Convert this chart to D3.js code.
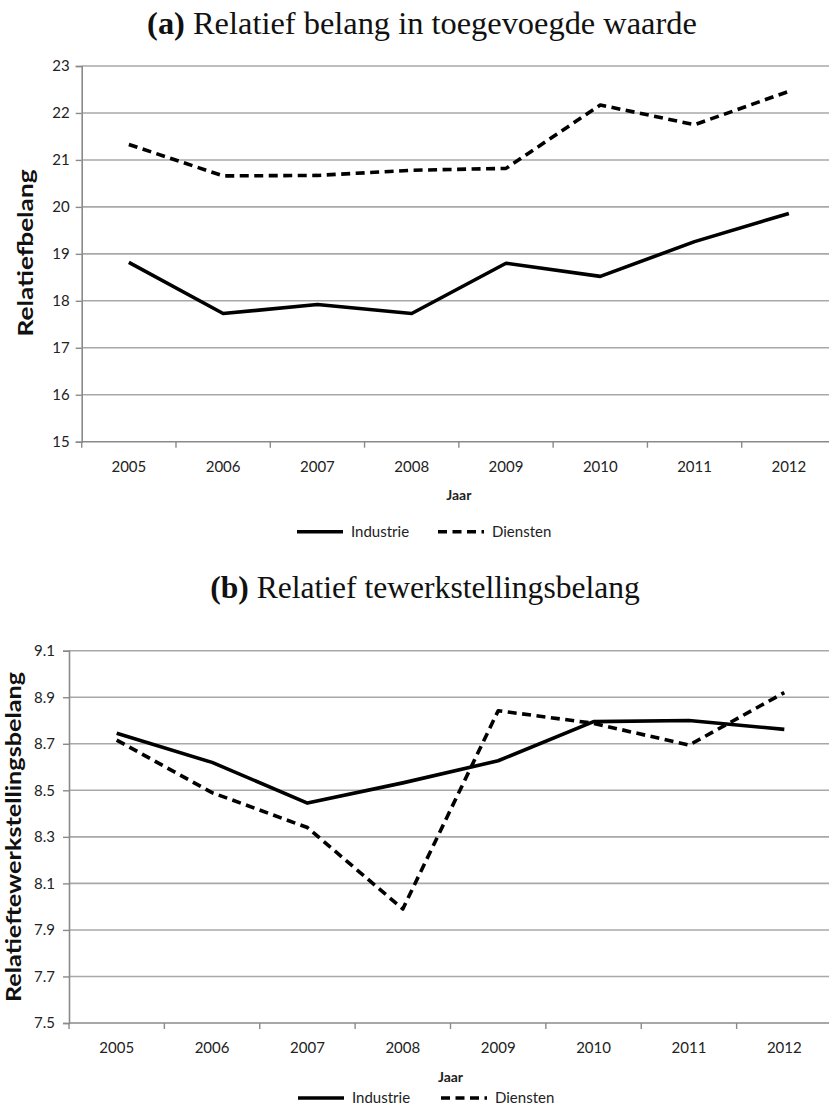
<!DOCTYPE html>
<html>
<head>
<meta charset="utf-8">
<script src="https://cdn.jsdelivr.net/npm/d3@7"></script>
<style>
  html, body { margin: 0; padding: 0; background: #fff; }
  svg { display: block; }
</style>
</head>
<body>
<svg id="chart" width="829" height="1106"></svg>
<script>
// ---------- data ----------
const years = ["2005", "2006", "2007", "2008", "2009", "2010", "2011", "2012"];
const seriesNames = ["Industrie", "Diensten"];

const industrieA = [18.82, 17.73, 17.92, 17.73, 18.80, 18.52, 19.26, 19.86];
const dienstenA  = [21.33, 20.66, 20.67, 20.78, 20.82, 22.17, 21.75, 22.46];
const ticksA = [15, 16, 17, 18, 19, 20, 21, 22, 23];

const industrieB = [8.745, 8.62, 8.445, 8.532, 8.627, 8.795, 8.80, 8.762];
const dienstenB  = [8.716, 8.49, 8.34, 7.99, 8.842, 8.788, 8.694, 8.92];
const ticksB = [7.5, 7.7, 7.9, 8.1, 8.3, 8.5, 8.7, 8.9, 9.1];

const titleA = { bold: "(a)", rest: " Relatief belang in toegevoegde waarde" };
const titleB = { bold: "(b)", rest: " Relatief tewerkstellingsbelang" };
const yTitleA = "Relatiefbelang";
const yTitleB = "Relatieftewerkstellingsbelang";
const xTitle = "Jaar";

// ---------- drawing ----------
const svg = d3.select("#chart");
const sans = "Lato, 'Open Sans', sans-serif";
const serif = "'Liberation Serif', 'DejaVu Serif', serif";
const gridColor = "#a8a8a8";
const axisColor = "#8a8a8a";
const textColor = "#222";

function fitFont(sel, target, base) {
  const w = sel.node().getComputedTextLength();
  sel.attr("font-size", base * target / w);
}

function drawTitle(t, cx, baseline, targetWidth) {
  const txt = svg.append("text")
    .attr("x", cx).attr("y", baseline)
    .attr("text-anchor", "middle")
    .attr("font-family", serif)
    .attr("font-size", 28)
    .attr("fill", "#111");
  txt.append("tspan").attr("font-weight", "bold").text(t.bold);
  txt.append("tspan").text(t.rest);
  fitFont(txt, targetWidth, 28);
}

function drawChart(cfg) {
  const g = svg.append("g");
  const x = d3.scaleBand().domain(years).range([cfg.left, cfg.right]).padding(0);
  const y = d3.scaleLinear().domain(cfg.domain).range([cfg.bottom, cfg.top]);
  const cx = d => x(d) + x.bandwidth() / 2;

  // gridlines
  g.selectAll(".grid").data(cfg.ticks.slice(1)).join("line")
    .attr("x1", cfg.left).attr("x2", cfg.right)
    .attr("y1", d => y(d)).attr("y2", d => y(d))
    .attr("stroke", gridColor).attr("stroke-width", 1.6);

  // y axis
  const yAxis = d3.axisLeft(y).tickValues(cfg.ticks).tickSize(6).tickPadding(cfg.yPad)
    .tickFormat(cfg.fmt);
  const ya = g.append("g").attr("transform", `translate(${cfg.left},0)`).call(yAxis);
  ya.select(".domain").attr("stroke", axisColor).attr("stroke-width", 1.6);
  ya.selectAll(".tick line").attr("stroke", axisColor).attr("stroke-width", 1.4);
  ya.selectAll(".tick text").attr("font-family", sans).attr("font-size", 15)
    .attr("fill", textColor);

  // x axis: ticks at band boundaries
  const xa = g.append("g").attr("transform", `translate(0,${cfg.bottom})`);
  xa.append("line").attr("x1", cfg.left).attr("x2", cfg.right)
    .attr("stroke", axisColor).attr("stroke-width", 1.6);
  xa.selectAll(".xt").data(years).join("line")
    .attr("x1", d => x(d)).attr("x2", d => x(d))
    .attr("y1", 0).attr("y2", 6)
    .attr("stroke", axisColor).attr("stroke-width", 1.4);
  xa.selectAll(".xl").data(years).join("text")
    .attr("x", d => cx(d)).attr("y", cfg.xLabelDy)
    .attr("text-anchor", "middle")
    .attr("font-family", sans).attr("font-size", 15).attr("fill", textColor)
    .text(d => d);

  // x title
  g.append("text")
    .attr("x", (cfg.left + cfg.right) / 2).attr("y", cfg.xTitleY)
    .attr("text-anchor", "middle")
    .attr("font-family", sans).attr("font-size", 14).attr("font-weight", "bold")
    .attr("fill", textColor).text(xTitle);

  // y title
  g.append("text")
    .attr("transform", `translate(${cfg.yTitleX},${cfg.yTitleY}) rotate(-90)`)
    .attr("text-anchor", "middle")
    .attr("font-family", sans).attr("font-size", 21).attr("font-weight", "bold")
    .attr("textLength", cfg.yTitleLen).attr("lengthAdjust", "spacingAndGlyphs")
    .attr("fill", "#111").text(cfg.yTitle);

  // lines
  const line = d3.line().x((d, i) => cx(years[i])).y(d => y(d)).curve(d3.curveLinear);
  const series = [
    { name: seriesNames[0], vals: cfg.industrie, dash: null },
    { name: seriesNames[1], vals: cfg.diensten, dash: "9,5.5" }
  ];
  g.selectAll(".series").data(series).join("path")
    .attr("d", d => line(d.vals))
    .attr("fill", "none").attr("stroke", "#000")
    .attr("stroke-width", 3.6)
    .attr("stroke-linejoin", "round")
    .attr("stroke-dasharray", d => d.dash);

  // legend
  const lg = g.append("g").attr("transform", `translate(0,${cfg.legendY})`);
  const legendItems = [
    { name: seriesNames[0], x0: cfg.legX[0], dash: null },
    { name: seriesNames[1], x0: cfg.legX[1], dash: "9,5.5" }
  ];
  legendItems.forEach(it => {
    lg.append("line").attr("x1", it.x0).attr("x2", it.x0 + 46)
      .attr("y1", 0).attr("y2", 0)
      .attr("stroke", "#000").attr("stroke-width", 3.6)
      .attr("stroke-dasharray", it.dash);
    lg.append("text").attr("x", it.x0 + 54).attr("y", 5)
      .attr("font-family", sans).attr("font-size", 15).attr("fill", textColor)
      .text(it.name);
  });
}

drawTitle(titleA, 422, 34, 550);
drawTitle(titleB, 425, 598, 430);

drawChart({
  left: 81.7, right: 836, top: 66, bottom: 441.7,
  domain: [15, 23], ticks: ticksA, fmt: d3.format("d"), yPad: 6,
  industrie: industrieA, diensten: dienstenA,
  xLabelDy: 30, xTitleY: 500, legendY: 531.7, legX: [297, 438],
  yTitle: yTitleA, yTitleX: 33, yTitleY: 253, yTitleLen: 167
});

drawChart({
  left: 69, right: 832, top: 650.7, bottom: 1023,
  domain: [7.5, 9.1], ticks: ticksB, fmt: d3.format(".1f"), yPad: 8,
  industrie: industrieB, diensten: dienstenB,
  xLabelDy: 30, xTitleY: 1082, legendY: 1098, legX: [298, 441],
  yTitle: yTitleB, yTitleX: 21, yTitleY: 837, yTitleLen: 330
});
</script>
</body>
</html>
